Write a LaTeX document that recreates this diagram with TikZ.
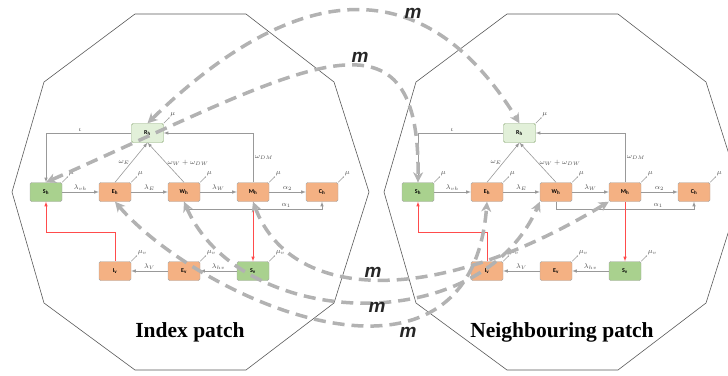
\documentclass[tikz,border=0pt]{standalone}
\usepackage{fontspec}
\setmainfont{Liberation Serif}
\newfontfamily\boxfont{Carlito}
\newfontfamily\mfont{Liberation Sans}
\tikzset{>=latex}
\usetikzlibrary{positioning,arrows.meta}
\definecolor{susgreen}{HTML}{A9D18E}
\definecolor{recgreen}{HTML}{E2F0D9}
\definecolor{infOrange}{HTML}{F4B183}
\tikzset{
  comp/.style={draw=black!35, rounded corners=1.5pt, minimum width=32pt, minimum height=19pt, inner sep=0pt, font=\boxfont\fontsize{6}{6}\selectfont\bfseries},
  flow/.style={draw=black!40, line width=0.6pt, ->},
  infect/.style={draw=red!70, line width=0.6pt, ->},
  rate/.style={font=\fontsize{7}{8}\selectfont, text=black!70, inner sep=1.5pt},
  death/.style={draw=black!40, line width=0.5pt, -{Latex[length=1.5pt,width=1.5pt]}},
  migr/.style={draw=black!30, line width=3.5pt, dash pattern=on 12pt off 7pt, {Stealth[length=10pt,width=10pt,inset=3pt]}-{Stealth[length=10pt,width=10pt,inset=3pt]}},
  mlabel/.style={font=\mfont\fontsize{19}{19}\selectfont\bfseries\itshape, text=black!85},
  patchname/.style={font=\fontsize{21.5}{22}\selectfont\bfseries}
}

\begin{document}
\begin{tikzpicture}[x=1pt,y=-1pt]
\useasboundingbox (0,0) rectangle (728,375);
\clip (0,0) rectangle (728,375);
\foreach \p/\dx/\name in {a/0/Index patch, b/372/Neighbouring patch}{
  \begin{scope}[xshift=\dx]
  \draw[black!65, line width=0.6pt] (135,14) -- (246,14) -- (334,82) -- (369,192) -- (334,303) -- (246,370) -- (135,370) -- (44,303) -- (12,192) -- (44,82) -- cycle;
  \node[patchname] (name\p) at (190,332) {\name};
  \node[comp, fill=susgreen] (Sh\p) at (46,192) {S\textsubscript{h}};
  \node[comp, fill=infOrange, right of=Sh\p, node distance=69pt] (Eh\p) {E\textsubscript{h}};
  \node[comp, fill=infOrange, right of=Eh\p, node distance=69pt] (Wh\p) {W\textsubscript{h}};
  \node[comp, fill=infOrange, right of=Wh\p, node distance=69pt] (Mh\p) {M\textsubscript{h}};
  \node[comp, fill=infOrange, right of=Mh\p, node distance=69pt] (Ch\p) {C\textsubscript{h}};
  \node[comp, fill=recgreen, draw=susgreen!80!black] (Rh\p) at (147.5,133) {R\textsubscript{h}};
  \node[comp, fill=infOrange, below of=Eh\p, node distance=79pt] (Iv\p) {I\textsubscript{v}};
  \node[comp, fill=infOrange, right of=Iv\p, node distance=69pt] (Ev\p) {E\textsubscript{v}};
  \node[comp, fill=susgreen, right of=Ev\p, node distance=69pt] (Sv\p) {S\textsubscript{v}};
  \coordinate[below of=Sh\p, node distance=40pt] (aux\p);
  \draw[flow] (Sh\p) -- node[rate, above] {$\lambda_{vh}$} (Eh\p);
  \draw[flow] (Eh\p) -- node[rate, above] {$\lambda_E$} (Wh\p);
  \draw[flow] (Wh\p) -- node[rate, above] {$\lambda_W$} (Mh\p);
  \draw[flow] (Mh\p) -- node[rate, above] {$\alpha_2$} (Ch\p);
  \draw[flow] (Wh\p.south) -- ++(0,8) -| node[rate, above, pos=0.37] {$\alpha_1$} (Ch\p.south);
  \draw[flow] (Rh\p.west) -| node[rate, above, pos=0.3] {$\iota$} (Sh\p.north);
  \draw[flow] (Mh\p.north) |- node[rate, right, pos=0.25] {$\omega_{DM}$} (Rh\p.east);
  \draw[flow] (Eh\p.north) -- node[rate, left] {$\omega_E$} (Rh\p.south);
  \draw[flow] (Wh\p.north) -- node[rate, right] {$\omega_W + \omega_{DW}$} (Rh\p.south);
  \draw[flow] (Sv\p) -- node[rate, above] {$\lambda_{hv}$} (Ev\p);
  \draw[flow] (Ev\p) -- node[rate, above] {$\lambda_V$} (Iv\p);
  \draw[infect] (Iv\p.north) |- (aux\p) -- (Sh\p.south);
  \draw[infect] (Mh\p.south) -- (Sv\p.north);
  \foreach \n in {Sh,Eh,Wh,Mh,Ch,Rh}
    \draw[death] (\n\p.north east) -- ++(6,-6) node[rate, above right, inner sep=0.3pt] {$\mu$};
  \foreach \n in {Iv,Ev,Sv}
    \draw[death] (\n\p.north east) -- ++(6,-6) node[rate, above right, inner sep=0.3pt] {$\mu_v$};
  \end{scope}
}
\draw[migr] (Rha.north) .. controls (290,-15) and (420,-38) .. (Rhb.north);
\draw[migr] (Sha.north) .. controls (300,70) and (420,-10) .. (Shb.north);
\draw[migr] (Mha.south) .. controls (290,300) and (430,310) .. (Mhb.south west);
\draw[migr] (Wha.south) .. controls (240,330) and (480,340) .. (Whb.south west);
\draw[migr] (Eha.south) .. controls (200,300) and (470,420) .. (Ehb.south);
\node[mlabel] (m1) at (413,13) {m};
\node[mlabel] (m2) at (360,57) {m};
\node[mlabel] (m3) at (373,272) {m};
\node[mlabel] (m4) at (377,307) {m};
\node[mlabel] (m5) at (408,332) {m};
\end{tikzpicture}
\end{document}
